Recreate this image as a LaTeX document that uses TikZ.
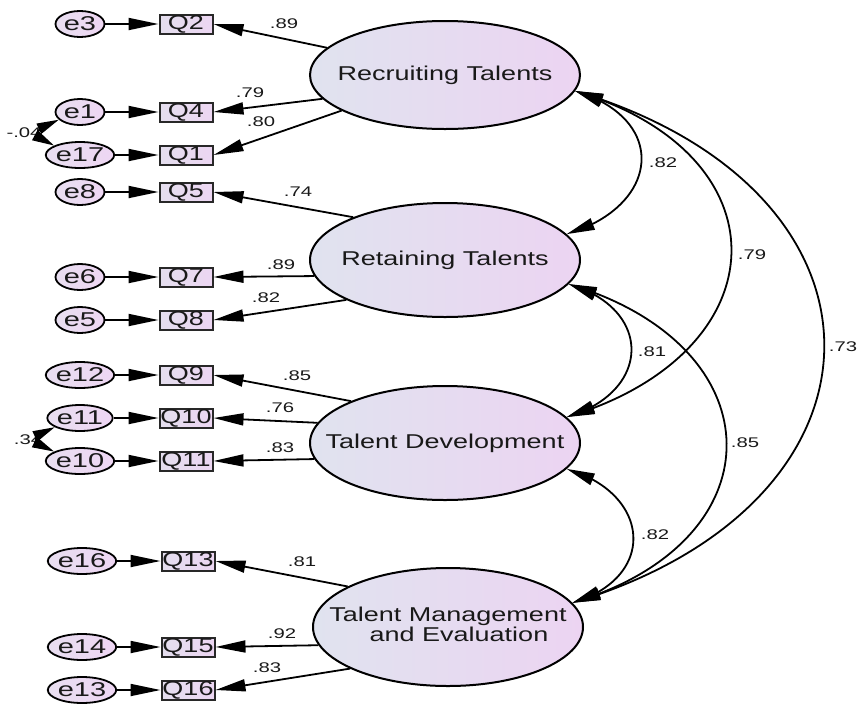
\documentclass[tikz,border=0pt]{standalone}
\usepackage{fontspec}
\usetikzlibrary{shapes.geometric,arrows.meta,bending}
\newfontfamily\labfam[FakeStretch=1.35]{Liberation Sans}
\newfontfamily\errfam[FakeStretch=1.45]{Liberation Sans}
\newfontfamily\numfam[FakeStretch=1.45]{Liberation Sans}
\definecolor{latL}{RGB}{224,227,239}
\definecolor{latR}{RGB}{236,212,242}
\definecolor{obsL}{RGB}{228,222,238}
\definecolor{obsR}{RGB}{236,214,242}
\definecolor{errL}{RGB}{232,222,240}
\definecolor{errR}{RGB}{238,214,243}
\definecolor{txt}{RGB}{25,25,25}
\definecolor{boxline}{RGB}{40,40,40}
% zero-width text box, so the ellipse keeps its own size
\newcommand{\zw}[1]{\makebox[0pt][c]{#1}}
\tikzset{
  latent/.style={ellipse, draw=black, line width=2pt, left color=latL, right color=latR,
    minimum width=270pt, minimum height=114pt, inner sep=0pt, text=txt,
    font={\labfam\fontsize{20pt}{20pt}\selectfont}},
  obs/.style={rectangle, draw=boxline, line width=2pt, left color=obsL, right color=obsR,
    minimum width=53pt, minimum height=19pt, inner sep=0pt, text=txt,
    font={\labfam\fontsize{20pt}{20pt}\selectfont}},
  err/.style={ellipse, draw=black, line width=1.8pt, left color=errL, right color=errR,
    minimum width=49pt, minimum height=26pt, inner sep=0pt, text=txt,
    font={\errfam\fontsize{20pt}{20pt}\selectfont}},
  coef/.style={inner sep=0pt, text=txt, font={\numfam\fontsize{14pt}{14pt}\selectfont}},
  load/.style={line width=1.8pt, -{Triangle[length=30pt,width=12pt]}},
  cov/.style={line width=1.8pt, {Triangle[length=28pt,width=12pt]}-{Triangle[length=28pt,width=12pt]}},
  ecov/.style={line width=1.8pt, {Triangle[length=22pt,width=11pt]}-{Triangle[length=22pt,width=11pt]}}
}
\begin{document}
\begin{tikzpicture}[x=1pt,y=-1pt]
\useasboundingbox (0,0) rectangle (860,705);

% latent factors
\node[latent, minimum height=108pt] (L1) at (445,75) {\zw{Recruiting Talents}};
\node[latent] (L2) at (445,260) {\zw{Retaining Talents}};
\node[latent] (L3) at (445,443) {\zw{Talent Development}};
\node[latent, minimum height=118pt] (L4) at (448,627)
  {\zw{\begin{tabular}{@{}c@{}}Talent Management\\[-1pt]\hspace*{22pt}and Evaluation\end{tabular}}};

% observed items
\node[obs] (q2)  at (186,24)  {Q2};
\node[obs] (q4)  at (186,112) {Q4};
\node[obs] (q1)  at (186,155) {Q1};
\node[obs] (q5)  at (186,192) {Q5};
\node[obs] (q7)  at (186,277) {Q7};
\node[obs] (q8)  at (186,320) {Q8};
\node[obs] (q9)  at (186,375) {Q9};
\node[obs] (q10) at (186,418) {Q10};
\node[obs] (q11) at (186,461) {Q11};
\node[obs] (q13) at (188,561) {Q13};
\node[obs] (q15) at (188,647) {Q15};
\node[obs] (q16) at (188,690) {Q16};

% error terms
\node[err] (e3)  at (80,24)  {e3};
\node[err] (e1)  at (80,112) {e1};
\node[err] (e17) at (80,155) {e17};
\node[err] (e8)  at (80,192) {e8};
\node[err] (e6)  at (80,277) {e6};
\node[err] (e5)  at (80,320) {e5};
\node[err] (e12) at (80,375) {e12};
\node[err] (e11) at (80,418) {e11};
\node[err] (e10) at (80,461) {e10};
\node[err] (e16) at (82,561) {e16};
\node[err] (e14) at (82,647) {e14};
\node[err] (e13) at (82,690) {e13};

% error -> item
\foreach \e/\q in {e3/q2,e1/q4,e17/q1,e8/q5,e6/q7,e5/q8,e12/q9,e11/q10,e10/q11,e16/q13,e14/q15,e13/q16}
  \draw[load] (\e) -- (\q);

% factor loadings
\draw[load] (L1.167.7) -- (q2.east);
\draw[load] (L1.191)   -- (q4.east);
\draw[load] (L1.199.3) -- (q1.east);
\draw[load] (L2.155.5) -- (q5.east);
\draw[load] (L2.187.5) -- (q7.east);
\draw[load] (L2.202.6) -- (q8.east);
\draw[load] (L3.156.7) -- (q9.east);
\draw[load] (L3.171.4) -- (q10.east);
\draw[load] (L3.187.7) -- (q11.east);
\draw[load] (L4.158.2) -- (q13.east);
\draw[load] (L4.188.7) -- (q15.east);
\draw[load] (L4.203.3) -- (q16.east);

\node[coef] (w2)  at (284,24)  {.89};
\node[coef] (w4)  at (250,93)  {.79};
\node[coef] (w1)  at (261,122) {.80};
\node[coef] (w5)  at (298,192) {.74};
\node[coef] (w7)  at (281,265) {.89};
\node[coef] (w8)  at (266,298) {.82};
\node[coef] (w9)  at (297,376) {.85};
\node[coef] (w10) at (280,408) {.76};
\node[coef] (w11) at (280,448) {.83};
\node[coef] (w13) at (302,562) {.81};
\node[coef] (w15) at (282,634) {.92};
\node[coef] (w16) at (267,668) {.83};

% factor covariances
\draw[cov] (L1.-7.5) .. controls +(94,28) and +(94,-28) .. (L2.12.4);
\draw[cov] (L1.-7.5) .. controls +(214,64) and +(214,-64) .. (L3.12);
\draw[cov] (L1.-7.5) .. controls +(334,100) and +(334,-100) .. (L4.11.6);
\draw[cov] (L2.-11.5) .. controls +(85,25) and +(85,-25) .. (L3.12);
\draw[cov] (L2.-11.5) .. controls +(208,62) and +(208,-62) .. (L4.11.6);
\draw[cov] (L3.-12.4) .. controls +(85,25) and +(85,-25) .. (L4.11.6);

\node[coef] (r12) at (663,163) {.82};
\node[coef] (r13) at (752,255) {.79};
\node[coef] (r14) at (843,347) {.73};
\node[coef] (r23) at (652,352) {.81};
\node[coef] (r24) at (745,443) {.85};
\node[coef] (r34) at (655,535) {.82};

% error covariances
\node[coef] (c1) at (24,133) {-.04};
\node[coef] (c2) at (28,440) {.34};
\draw[ecov] (e1.200) .. controls +(-25,8) and +(-25,-8) .. (e17.160);
\draw[ecov] (e11.200) .. controls +(-25,8) and +(-25,-8) .. (e10.160);
\end{tikzpicture}
\end{document}
